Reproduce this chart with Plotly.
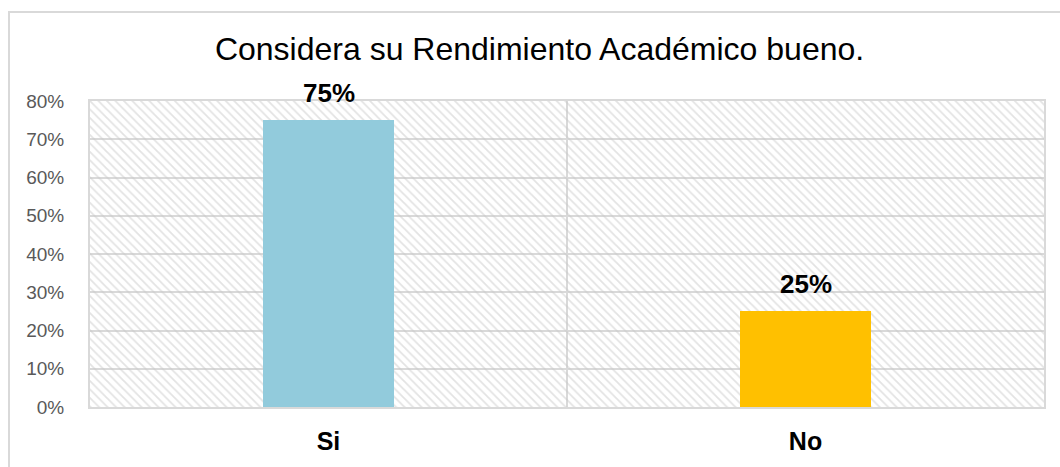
import plotly.graph_objects as go

categories = ["Si", "No"]
values = [0.75, 0.25]
bar_colors = ["#92CBDC", "#FFC000"]
title_text = "Considera su Rendimiento Académico bueno."
y_tickvals = [0, 0.1, 0.2, 0.3, 0.4, 0.5, 0.6, 0.7, 0.8]
y_ticktext = ["0%", "10%", "20%", "30%", "40%", "50%", "60%", "70%", "80%"]

xpos = list(range(len(categories)))

fig = go.Figure()

# hatched plot background
fig.add_trace(go.Bar(
    x=[(len(categories) - 1) / 2], y=[max(y_tickvals)], width=[len(categories)],
    marker=dict(color="rgba(0,0,0,0)", line=dict(width=0),
                pattern=dict(shape="\\", fgcolor="#C8C8C8", bgcolor="rgba(0,0,0,0)",
                             size=6, solidity=0.3)),
    hoverinfo="skip", showlegend=False,
))

fig.add_trace(go.Bar(
    x=xpos, y=values, width=0.273,
    marker=dict(color=bar_colors, line=dict(width=0)),
    showlegend=False,
))

for xi, v in zip(xpos, values):
    fig.add_annotation(x=xi, y=v, text=f"<b>{round(v*100)}%</b>", showarrow=False,
                       yanchor="bottom", yshift=10,
                       font=dict(family="Liberation Sans, Arial", size=26, color="#000000"))

# outer chart border
fig.add_shape(type="rect", xref="paper", yref="paper",
              x0=-0.0849, x1=1.03, y0=-0.23, y1=1.291,
              line=dict(color="#D9D9D9", width=2), layer="below")

fig.update_layout(
    width=1060, height=467,
    margin=dict(l=90, r=16, t=101, b=57),
    paper_bgcolor="white", plot_bgcolor="white",
    barmode="overlay", bargap=0,
    title=dict(text=title_text, x=0.509, xanchor="center", y=0.896, yanchor="middle",
               font=dict(family="Liberation Sans, Arial", size=32, color="#000000")),
    font=dict(family="Liberation Sans, Arial"),
    xaxis=dict(range=[-0.5, len(categories) - 0.5], tickvals=xpos,
               ticktext=[f"<b>{c}</b>" for c in categories],
               tickfont=dict(size=25, color="#000000"), showgrid=False,
               showline=True, linecolor="#D9D9D9", linewidth=2, mirror=True,
               ticks="", ticklabelstandoff=11, zeroline=False,
               minor=dict(tickvals=[0.5], showgrid=True, gridcolor="#D9D9D9", gridwidth=2)),
    yaxis=dict(range=[0, 0.8], tickvals=y_tickvals, ticktext=y_ticktext,
               tickfont=dict(size=19, color="#595959"),
               showgrid=True, gridcolor="#D9D9D9", gridwidth=2,
               showline=True, linecolor="#D9D9D9", linewidth=2, mirror=True,
               zeroline=False, ticks="", ticklabelstandoff=20),
)

fig.write_html("out.html", config={"displayModeBar": False},
               post_script="document.body.style.margin='0';")
